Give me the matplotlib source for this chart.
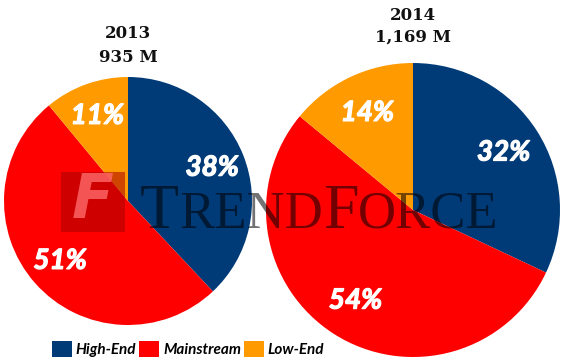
"""Two pie charts: notebook shipments share by segment, 2013 vs 2014."""

import matplotlib.pyplot as plt
import matplotlib.patheffects as pe
from matplotlib.patches import Patch, Rectangle

W, H = 564, 363

segments = ["High-End", "Mainstream", "Low-End"]
colours = ["#003b78", "#fe0000", "#ff9a00"]

years = ["2013", "2014"]
totals = ["935 M", "1,169 M"]
share_2013 = [38, 51, 11]
share_2014 = [32, 54, 14]

fig = plt.figure(figsize=(W / 100, H / 100), dpi=100)
ax = fig.add_axes([0, 0, 1, 1])

pct_font = dict(color="white", fontsize=20, fontweight="bold",
                fontstyle="italic", family=["Lato", "DejaVu Sans"])
thicken = [pe.Stroke(linewidth=0.9, foreground="white"), pe.Normal()]

# (centre x, centre y from top, radius) in pixels
pies = [(128, 201, 124), (413, 210, 147)]
for (cx, cy, r), shares in zip(pies, [share_2013, share_2014]):
    wedges, texts, autotexts = ax.pie(
        shares, colors=colours, startangle=90, counterclock=False,
        center=(cx, H - cy), radius=r, autopct=lambda p: f"{p:.0f}%",
        pctdistance=0.73, textprops=pct_font,
        wedgeprops=dict(linewidth=0),
    )
    for t in autotexts:
        t.set_zorder(6)
        t.set_path_effects(thicken)

# year / total titles
title_kw = dict(ha="center", va="center", fontsize=12, fontweight="bold",
                family="DejaVu Serif", color="#111111")
ax.text(128, H - 34, years[0], **title_kw)
ax.text(128, H - 57, totals[0], **title_kw)
ax.text(413, H - 16, years[1], **title_kw)
ax.text(413, H - 37, totals[1], **title_kw)

# watermark logo
ax.add_patch(Rectangle((61, H - 232), 64, 60, facecolor="#a80000",
                       edgecolor="none", alpha=0.55, zorder=4))
ax.text(93, H - 202, "F", ha="center", va="center", fontsize=44,
        fontweight="bold", fontstyle="italic", family="DejaVu Sans",
        color="#ff6a6a", alpha=0.8, zorder=4)

# watermark word, mixed capitals
fig.canvas.draw()
renderer = fig.canvas.get_renderer()
x = 140
for part, size in [("T", 46), ("REND", 38), ("F", 46), ("ORCE", 38)]:
    t = ax.text(x, H - 228, part, ha="left", va="baseline", fontsize=size,
                family="Liberation Serif", color="black", alpha=0.55,
                zorder=5)
    bb = t.get_window_extent(renderer)
    x += bb.width

ax.set_xlim(0, W)
ax.set_ylim(0, H)
ax.set_aspect("equal")
ax.axis("off")

handles = [Patch(facecolor=c, edgecolor="none", label=s)
           for c, s in zip(colours, segments)]
fig.legend(handles=handles, loc="center left", ncols=3, frameon=False,
           bbox_to_anchor=(46 / W, 1 - 349 / H),
           prop=dict(family=["Lato", "DejaVu Sans"], weight="bold",
                     style="italic", size=11),
           handlelength=1.3, handleheight=1.3, handletextpad=0.25,
           columnspacing=0.2, borderaxespad=0)

fig.savefig("out.png", dpi=100)
